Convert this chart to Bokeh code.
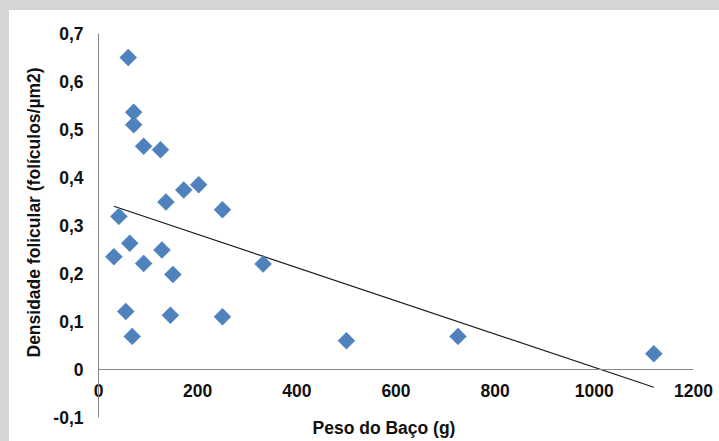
import math
from bokeh.plotting import figure
from bokeh.models import (Range1d, FixedTicker, CustomJSTickFormatter, Title,
                          Span)
from bokeh.embed import file_html
from bokeh.resources import INLINE

# Data
peso_baco = [60, 71, 71, 91, 125, 202, 172, 136, 250, 41, 63, 128, 31, 91,
             150, 332, 55, 145, 250, 68, 500, 725, 1120]
densidade = [0.650, 0.536, 0.510, 0.465, 0.458, 0.385, 0.374, 0.349, 0.333,
             0.319, 0.263, 0.249, 0.235, 0.221, 0.198, 0.220, 0.121, 0.113,
             0.110, 0.069, 0.060, 0.069, 0.033]
trend_x = [31, 1120]
trend_y = [0.340, -0.037]

x_ticks = [0, 200, 400, 600, 800, 1000, 1200]
x_tick_labels = ["0", "200", "400", "600", "800", "1000", "1200"]
y_ticks = [-0.1, 0.0, 0.1, 0.2, 0.3, 0.4, 0.5, 0.6, 0.7]
y_tick_labels = ["-0,1", "0", "0,1", "0,2", "0,3", "0,4", "0,5", "0,6", "0,7"]

x_title = "Peso do Baço (g)"
y_title = "Densidade folicular (folículos/µm2)"

FONT = "Liberation Sans"
GRAY = "#d4d5d7"
AXIS = "#868686"
TXT = "#111111"

page_bg = ("linear-gradient(to bottom, %s 10px, rgba(255,255,255,0) 10px), "
           "linear-gradient(to right, %s 9px, #ffffff 9px)" % (GRAY, GRAY))

p = figure(width=719, height=441, output_backend="svg", toolbar_location=None,
           x_range=Range1d(0, 1200), y_range=Range1d(-0.1, 0.7),
           min_border_left=98, min_border_right=26, min_border_top=33,
           min_border_bottom=24, background_fill_color="white",
           border_fill_color=None,
           styles={"background": page_bg, "vertical-align": "top",
                   "margin-bottom": "-8px"})
p.outline_line_color = None
p.grid.visible = False

nearest_js = """
let best = 0;
for (let i = 0; i < tvals.length; i++) {
  if (Math.abs(tvals[i] - tick) < Math.abs(tvals[best] - tick)) best = i;
}
return tlabels[best];
"""

for ax, tv, tl in ((p.xaxis[0], x_ticks, x_tick_labels),
                   (p.yaxis[0], y_ticks, y_tick_labels)):
    ax.ticker = FixedTicker(ticks=tv)
    ax.formatter = CustomJSTickFormatter(args=dict(tvals=tv, tlabels=tl),
                                         code=nearest_js)
    ax.major_tick_line_color = None
    ax.minor_tick_line_color = None
    ax.major_tick_out = 0
    ax.major_tick_in = 0
    ax.major_label_text_font = FONT
    ax.major_label_text_font_style = "bold"
    ax.major_label_text_font_size = "17.5px"
    ax.major_label_text_color = TXT

p.yaxis[0].axis_line_color = AXIS
p.yaxis[0].major_label_standoff = 15
p.xaxis[0].axis_line_color = None

# horizontal axis line crossing at y = 0
p.add_layout(Span(location=0, dimension="width", line_color=AXIS, line_width=1))

ttl_x = Title(text=x_title, align="left", offset=214, vertical_align="top",
              standoff=0, text_font=FONT, text_font_style="bold",
              text_font_size="17.5px", text_color=TXT)
xax = p.xaxis[0]
p.below = [ttl_x, xax]
xax.major_label_standoff = -56

ttl_y = Title(text=y_title, align="left", offset=60, vertical_align="bottom",
              standoff=14, text_font=FONT, text_font_style="bold",
              text_font_size="17.5px", text_color=TXT)
p.add_layout(ttl_y, "left")

p.line(trend_x, trend_y, line_color="#1a1a1a", line_width=1.2)

p.scatter(peso_baco, densidade, marker="square", size=12, angle=math.pi / 4,
          fill_color="#4f81bd", line_color="#4f81bd", line_width=0.5)

open("out.html", "w").write(file_html(p, INLINE))
